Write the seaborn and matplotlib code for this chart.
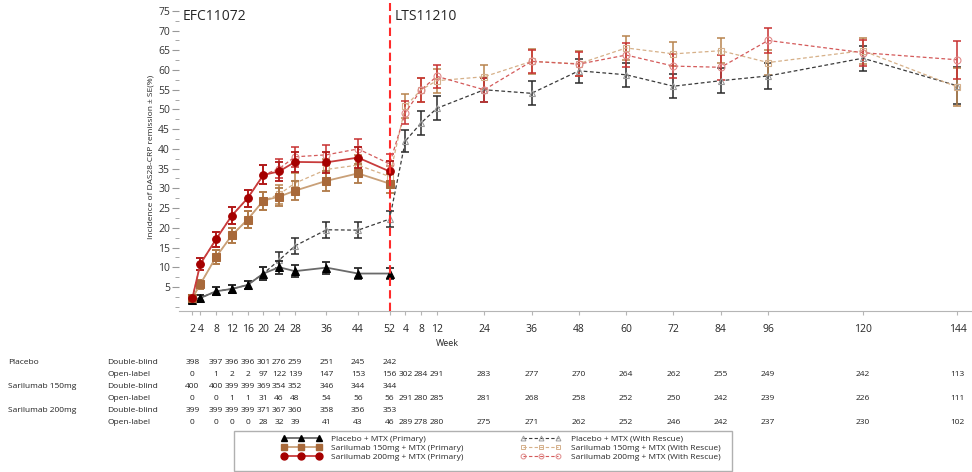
import matplotlib
matplotlib.use("Agg")
import matplotlib.pyplot as plt
import matplotlib.transforms as mtransforms
from matplotlib.lines import Line2D
from matplotlib.patches import Rectangle
from matplotlib.ticker import MultipleLocator
import seaborn as sns

# study weeks; LTS11210 weeks are laid out after week 52 of EFC11072
efc_weeks = [2, 4, 8, 12, 16, 20, 24, 28, 36, 44, 52]
lts_weeks = [4, 8, 12, 24, 36, 48, 60, 72, 84, 96, 120, 144]

# primary analysis (EFC11072 only), % remission and SE
pbo_primary = [1.7, 2.2, 3.9, 4.5, 5.5, 8.4, 10.0, 9.0, 9.9, 8.4, 8.4]
pbo_primary_se = [0.7, 0.7, 1.0, 1.0, 1.1, 1.6, 1.6, 1.5, 1.5, 1.4, 1.4]
s150_primary = [2.2, 5.7, 12.6, 18.1, 22.1, 26.9, 27.9, 29.4, 31.9, 33.8, 31.2]
s150_primary_se = [0.7, 1.1, 1.7, 1.9, 2.1, 2.3, 2.3, 2.4, 2.5, 2.5, 2.5]
s200_primary = [2.2, 10.8, 17.1, 23.1, 27.5, 33.4, 34.3, 36.7, 36.6, 37.8, 34.3]
s200_primary_se = [0.7, 1.5, 1.9, 2.1, 2.2, 2.4, 2.5, 2.6, 2.6, 2.6, 2.6]

# with rescue (EFC11072 then LTS11210)
pbo_rescue = [1.7, 2.2, 3.9, 4.5, 5.5, 8.4, 11.8, 15.4, 19.5, 19.4, 22.2,
              42.0, 46.6, 50.3, 55.0, 54.1, 59.8, 58.8, 55.9, 57.3, 58.5, 63.0, 56.0]
pbo_rescue_se = [0.7, 0.7, 1.0, 1.0, 1.1, 1.6, 2.0, 2.0, 2.0, 2.0, 2.1,
                 2.8, 3.0, 3.0, 3.0, 3.0, 3.0, 3.0, 3.1, 3.1, 3.2, 3.2, 4.7]
s150_rescue = [2.2, 5.7, 12.6, 18.1, 22.1, 26.9, 28.5, 31.3, 34.8, 35.9, 33.0,
               50.8, 55.0, 57.3, 58.3, 62.2, 61.6, 65.6, 64.1, 64.9, 61.9, 64.9, 55.7]
s150_rescue_se = [0.7, 1.1, 1.7, 1.9, 2.1, 2.3, 2.4, 2.5, 2.6, 2.6, 2.6,
                  3.0, 3.0, 3.0, 3.1, 3.1, 3.2, 3.1, 3.1, 3.2, 3.2, 3.3, 4.7]
s200_rescue = [2.2, 10.8, 17.1, 23.1, 27.5, 33.4, 35.0, 38.0, 38.5, 40.0, 36.2,
               49.2, 55.0, 58.4, 55.0, 62.2, 61.5, 63.8, 61.0, 60.7, 67.5, 64.4, 62.6]
s200_rescue_se = [0.7, 1.5, 1.9, 2.1, 2.2, 2.4, 2.5, 2.6, 2.6, 2.6, 2.6,
                  3.0, 3.0, 3.0, 3.0, 3.0, 3.1, 3.1, 3.1, 3.2, 3.2, 3.3, 4.8]

# patients at risk
count_efc_weeks = [2, 8, 12, 16, 20, 24, 28, 36, 44, 52]
pbo_db = [398, 397, 396, 396, 301, 276, 259, 251, 245, 242]
pbo_ol = [0, 1, 2, 2, 97, 122, 139, 147, 153, 156,
          302, 284, 291, 283, 277, 270, 264, 262, 255, 249, 242, 113]
s150_db = [400, 400, 399, 399, 369, 354, 352, 346, 344, 344]
s150_ol = [0, 0, 1, 1, 31, 46, 48, 54, 56, 56,
           291, 280, 285, 281, 268, 258, 252, 250, 242, 239, 226, 111]
s200_db = [399, 399, 399, 399, 371, 367, 360, 358, 356, 353]
s200_ol = [0, 0, 0, 0, 28, 32, 39, 41, 43, 46,
           289, 278, 280, 275, 271, 262, 252, 246, 242, 237, 230, 102]

sns.set_style("ticks")
plt.rcParams["font.family"] = ["Open Sans", "DejaVu Sans"]

W, H = 972, 472
fig = plt.figure(figsize=(W / 100, H / 100), dpi=100)
ax = fig.add_axes([179 / W, 1 - 311 / H, (W - 179) / W, 308 / H])

x_primary = efc_weeks
x_rescue = efc_weeks + [52 + w for w in lts_weeks]

# rescue series (dashed, open markers)
rescue = [
    (pbo_rescue, pbo_rescue_se, "#3a3a3a", "#9a9a9a", "#2a2a2a", "^"),
    (s150_rescue, s150_rescue_se, "#d6b088", "#d4b08c", "#b8844e", "s"),
    (s200_rescue, s200_rescue_se, "#d45a5a", "#e08a8a", "#c83030", "o"),
]
for y, se, lc, mc, ec, m in rescue:
    ax.errorbar(x_rescue, y, yerr=se, fmt="none", ecolor=ec, elinewidth=1.1,
                capsize=3, capthick=1.1, zorder=2)
    sns.lineplot(x=x_rescue, y=y, ax=ax, color=lc, linewidth=0.9,
                 linestyle=(0, (3, 2)), marker=m, markersize=5,
                 markerfacecolor="none", markeredgecolor=mc, markeredgewidth=0.8,
                 legend=False, zorder=3)

# primary series (solid, filled markers)
primary = [
    (pbo_primary, pbo_primary_se, "#6a6a6a", "#000000", "#2a2a2a", "^"),
    (s150_primary, s150_primary_se, "#c9a078", "#a8693a", "#b07a48", "s"),
    (s200_primary, s200_primary_se, "#c83c3c", "#a50000", "#b01818", "o"),
]
for y, se, lc, mc, ec, m in primary:
    ax.errorbar(x_primary, y, yerr=se, fmt="none", ecolor=ec, elinewidth=1.3,
                capsize=3, capthick=1.3, zorder=4)
    sns.lineplot(x=x_primary, y=y, ax=ax, color=lc, linewidth=1.3,
                 marker=m, markersize=5.5, markerfacecolor=mc,
                 markeredgecolor=mc, legend=False, zorder=5)

ax.axvline(52, color="#ff2a2a", linewidth=1.5, linestyle=(0, (4, 2)), zorder=6)

ax.set_xlim(-1.4, 199.7)
ax.set_ylim(-1.1, 77.0)
ax.set_xticks(x_rescue)
ax.set_xticklabels([str(w) for w in efc_weeks + lts_weeks])
ax.set_yticks(range(5, 80, 5))
ax.yaxis.set_minor_locator(MultipleLocator(2.5))

for side in ["top", "right", "left"]:
    ax.spines[side].set_visible(False)
ax.spines["bottom"].set_color("#b5b5b5")
ax.tick_params(axis="x", length=3, color="#b5b5b5", labelsize=7.5, pad=6)
ax.tick_params(axis="y", which="major", length=5, color="#999999",
               labelsize=7.5, pad=1.5, labelcolor="#333333")
ax.tick_params(axis="y", which="minor", length=3, color="#999999")

ax.set_xlabel("Week", fontsize=6.5)
ax.xaxis.set_label_coords((447 - 179) / (W - 179), (311 - 339) / 308)
ax.set_ylabel("Incidence of DAS28-CRP remission \u00b1 SE(%)", fontsize=6)
ax.yaxis.set_label_coords((154 - 179) / (W - 179), 0.5)

ax.text(-0.4, 73.6, "EFC11072", fontsize=10, ha="left", va="center")
ax.text(53.3, 73.6, "LTS11210", fontsize=10, ha="left", va="center")

# number at risk table
tr = mtransforms.blended_transform_factory(ax.transData, fig.transFigure)
count_x_ol = count_efc_weeks + [52 + w for w in lts_weeks]
rows = [
    ("Placebo", "Double-blind", pbo_db, count_efc_weeks, 362),
    ("", "Open-label", pbo_ol, count_x_ol, 374),
    ("Sarilumab 150mg", "Double-blind", s150_db, count_efc_weeks, 386),
    ("", "Open-label", s150_ol, count_x_ol, 398),
    ("Sarilumab 200mg", "Double-blind", s200_db, count_efc_weeks, 410),
    ("", "Open-label", s200_ol, count_x_ol, 422),
]
for grp, sub, vals, xs, py in rows:
    yf = 1 - py / H
    if grp:
        fig.text(8 / W, yf, grp, fontsize=6, ha="left", va="center", color="#222222")
    fig.text(107 / W, yf, sub, fontsize=6, ha="left", va="center", color="#222222")
    for xv, v in zip(xs, vals):
        ax.text(xv, yf, str(v), transform=tr, fontsize=6, ha="center",
                va="center", color="#222222", clip_on=False)

# legend
handles = [
    Line2D([], [], color="#6a6a6a", lw=1.3, marker="^", ms=5,
           mfc="#000000", mec="#000000"),
    Line2D([], [], color="#c9a078", lw=1.3, marker="s", ms=5,
           mfc="#a8693a", mec="#a8693a"),
    Line2D([], [], color="#c83c3c", lw=1.3, marker="o", ms=5,
           mfc="#a50000", mec="#a50000"),
    Line2D([], [], color="#3a3a3a", lw=0.8, ls=(0, (3, 2)), marker="^", ms=3.5,
           mfc="none", mec="#9a9a9a", mew=0.7),
    Line2D([], [], color="#d6b088", lw=0.8, ls=(0, (3, 2)), marker="s", ms=3.5,
           mfc="none", mec="#d4b08c", mew=0.7),
    Line2D([], [], color="#d45a5a", lw=0.8, ls=(0, (3, 2)), marker="o", ms=3.5,
           mfc="none", mec="#e08a8a", mew=0.7),
]
labels = [
    "Placebo + MTX (Primary)",
    "Sarilumab 150mg + MTX (Primary)",
    "Sarilumab 200mg + MTX (Primary)",
    "Placebo + MTX (With Rescue)",
    "Sarilumab 150mg + MTX (With Rescue)",
    "Sarilumab 200mg + MTX (With Rescue)",
]
fig.legend(handles, labels, ncol=2, numpoints=3, frameon=False, fontsize=6,
           loc="upper left", bbox_to_anchor=(281 / W, 1 - 435 / H),
           borderpad=0, borderaxespad=0, handlelength=4.8, handletextpad=1.2,
           columnspacing=6.9, labelspacing=0.15)
fig.patches.append(Rectangle((234 / W, 1 / H), (732 - 234) / W, (471 - 431) / H,
                             transform=fig.transFigure, fill=False,
                             edgecolor="#b0b0b0", linewidth=1.0))

fig.savefig("out.png", dpi=100)
